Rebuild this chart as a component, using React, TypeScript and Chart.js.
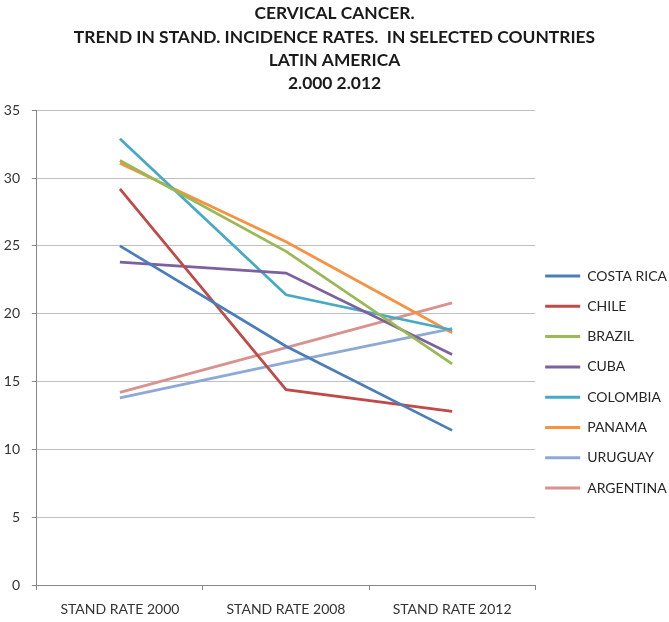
import React, { useEffect, useRef } from 'react';
import { Chart, registerables } from 'chart.js';

Chart.register(...registerables);

const categories = ['STAND RATE 2000', 'STAND RATE 2008', 'STAND RATE 2012'];

const costaRica = [25.0, 17.6, 11.4];
const chile = [29.2, 14.4, 12.8];
const brazil = [31.3, 24.6, 16.3];
const cuba = [23.8, 23.0, 17.0];
const colombia = [32.9, 21.4, 18.8];
const panama = [31.1, 25.3, 18.6];
const uruguay = [13.8, 16.4, 18.9];
const argentina = [14.2, 17.5, 20.8];

const seriesNames = ['COSTA RICA', 'CHILE', 'BRAZIL', 'CUBA', 'COLOMBIA', 'PANAMA', 'URUGUAY', 'ARGENTINA'];
const seriesColors = ['#4A7EBB', '#BE4B48', '#98B954', '#7D60A0', '#46AAC5', '#F69240', '#8DA9D6', '#D8928F'];

const titleLines = [
  'CERVICAL CANCER.',
  'TREND IN STAND. INCIDENCE RATES.  IN SELECTED COUNTRIES',
  'LATIN AMERICA',
  '2.000 2.012',
];

const yTicks = [0, 5, 10, 15, 20, 25, 30, 35];

export default function App() {
  const ref = useRef<HTMLCanvasElement>(null);

  useEffect(() => {
    const values = [costaRica, chile, brazil, cuba, colombia, panama, uruguay, argentina];
    const tickFont = { family: 'Lato', size: 14 };
    const chart = new Chart(ref.current as HTMLCanvasElement, {
      type: 'line',
      data: {
        labels: categories,
        datasets: seriesNames.map((name, i) => ({
          label: name,
          data: values[i],
          borderColor: seriesColors[i],
          backgroundColor: seriesColors[i],
          borderWidth: 2.75,
          pointRadius: 0,
          pointHoverRadius: 0,
          tension: 0,
          fill: false,
        })),
      },
      options: {
        responsive: false,
        animation: false,
        devicePixelRatio: 1,
        layout: { padding: { left: -8, right: -8, top: 0, bottom: -6 } },
        plugins: {
          title: {
            display: true,
            text: titleLines,
            color: '#1a1a1a',
            font: { family: 'Lato', size: 17.4, weight: 'bold', lineHeight: 1.34 },
            padding: { top: 2, bottom: 15 },
          },
          legend: {
            position: 'right',
            align: 'center',
            title: {
              display: true,
              text: '',
              font: { size: 12, lineHeight: 1.2 },
              padding: { top: 128, bottom: 0 },
            },
            labels: {
              boxWidth: 35,
              boxHeight: 3,
              padding: 10,
              color: '#262626',
              font: { family: 'Lato', size: 14, lineHeight: 1.45 },
              generateLabels: (c: any) =>
                c.data.datasets.map((ds: any, i: number) => ({
                  text: [ds.label],
                  fillStyle: ds.borderColor,
                  strokeStyle: ds.borderColor,
                  lineWidth: 0,
                  hidden: false,
                  datasetIndex: i,
                  fontColor: '#262626',
                })),
            },
          },
          tooltip: { enabled: false },
        },
        scales: {
          x: {
            offset: true,
            grid: { offset: true, drawOnChartArea: false, drawTicks: true, tickLength: 5, color: '#868686' },
            border: { display: true, color: '#868686' },
            ticks: { font: tickFont, color: '#333333', padding: 10.6, maxRotation: 0 },
          },
          y: {
            min: 0,
            max: 35,
            afterBuildTicks: (scale: any) => {
              scale.ticks = yTicks.map((v) => ({ value: v }));
            },
            grid: { color: '#BFBFBF', tickColor: '#868686', tickLength: 5, drawTicks: true },
            border: { display: true, color: '#868686' },
            ticks: { font: tickFont, color: '#333333', padding: 11.8 },
          },
        },
      },
    } as any);
    return () => chart.destroy();
  }, []);

  return (
    <div style={{ position: 'fixed', left: 0, top: 0, width: 669, height: 622, background: '#ffffff' }}>
      <canvas ref={ref} width={669} height={622} style={{ display: 'block' }} />
    </div>
  );
}
